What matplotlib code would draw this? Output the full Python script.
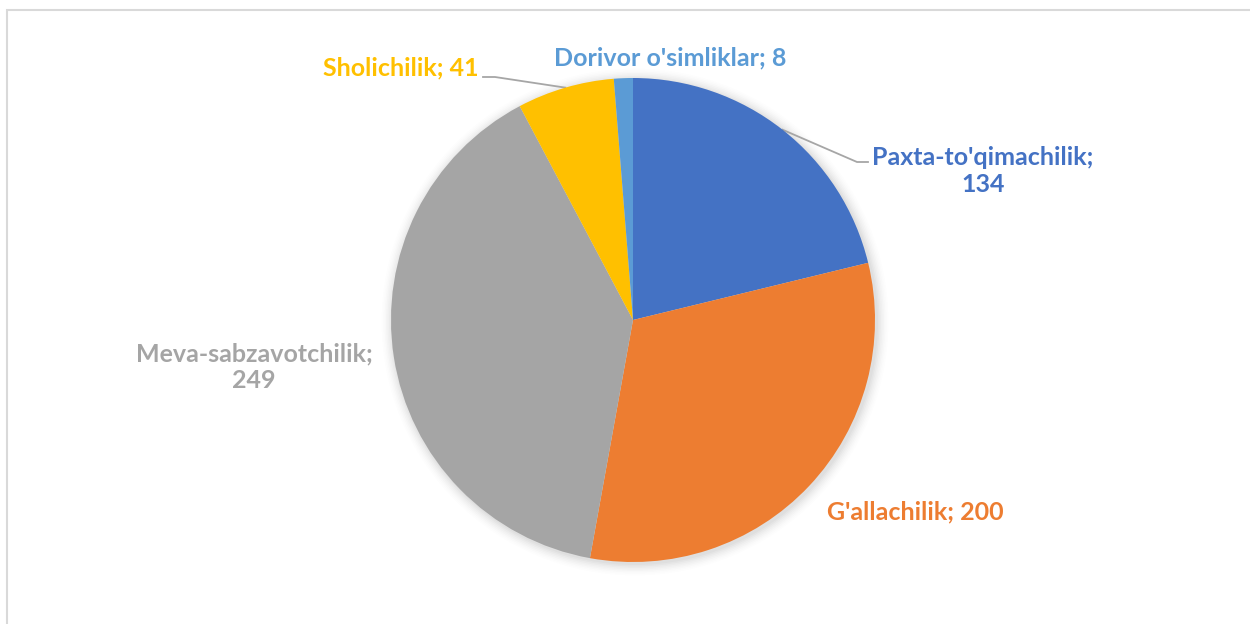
import numpy as np
import matplotlib.pyplot as plt
from matplotlib.patches import Rectangle, Circle

categories = ["Paxta-to'qimachilik", "G'allachilik", "Meva-sabzavotchilik",
              "Sholichilik", "Dorivor o'simliklar"]
values = [134, 200, 249, 41, 8]
colors = ["#4472C4", "#ED7D31", "#A5A5A5", "#FFC000", "#5B9BD5"]

W, H = 1250, 624
CX, CY, R = 633, 320, 242
LINE = "#A6A6A6"

plt.rcParams['font.family'] = ['Lato', 'DejaVu Sans']

fig = plt.figure(figsize=(W / 100, H / 100), dpi=100)
ax = fig.add_axes([0, 0, 1, 1])


def Y(y):
    return H - y


# chart frame
ax.add_patch(Rectangle((7, -10), W + 20, Y(10) + 10, fill=False,
                       edgecolor="#D9D9D9", lw=1.5, zorder=0))

# soft shadow under the pie
for i, a in enumerate(np.linspace(0.05, 0.012, 8)):
    ax.add_patch(Circle((CX + 2, Y(CY) - 2), R + 1 + i * 1.5, color="#000000",
                        alpha=a * 0.5, lw=0, zorder=1))

wedges, _ = ax.pie(values, colors=colors, startangle=90, counterclock=False,
                   center=(CX, Y(CY)), radius=R, frame=True,
                   wedgeprops=dict(linewidth=0, zorder=2))
ax.set_xlim(0, W)
ax.set_ylim(0, H)
ax.axis("off")


def edge_point(i):
    w = wedges[i]
    mid = np.deg2rad((w.theta1 + w.theta2) / 2)
    return CX + R * np.cos(mid), Y(CY) + R * np.sin(mid)


# leader lines
px, py = edge_point(0)
ax.plot([px, 857, 868], [py, Y(162), Y(162)], color=LINE, lw=1.3, zorder=1.5)
sx, sy = edge_point(3)
ax.plot([sx, 495, 483], [sy, Y(77), Y(77)], color=LINE, lw=1.3, zorder=1.5)

fs = 18
kw = dict(fontsize=fs, fontweight="bold", ha="center", va="center")
ax.text(983, Y(171), f"{categories[0]};\n{values[0]}", color=colors[0],
        linespacing=1.25, **kw)
ax.text(915, Y(512), f"{categories[1]}; {values[1]}", color=colors[1], **kw)
ax.text(254, Y(367), f"{categories[2]};\n{values[2]}", color=colors[2],
        linespacing=1.2, **kw)
ax.text(401, Y(68), f"{categories[3]}; {values[3]}", color=colors[3], **kw)
ax.text(670, Y(58), f"{categories[4]}; {values[4]}", color=colors[4], **kw)

fig.savefig("out.png", dpi=100, facecolor="white")
